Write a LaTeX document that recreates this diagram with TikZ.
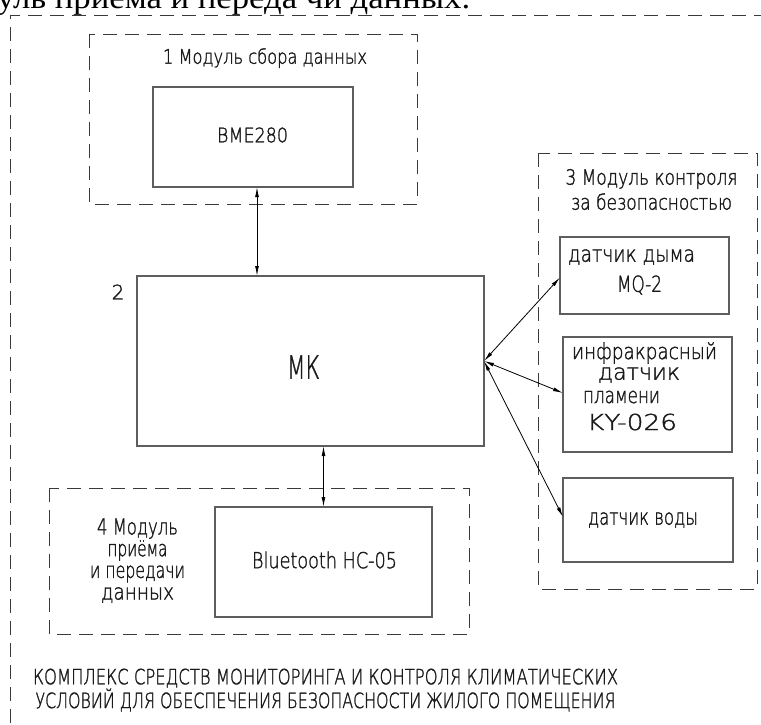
\documentclass[tikz,border=0pt]{standalone}
\usepackage{fontspec}
\setmainfont{DejaVu Sans ExtraLight}[FakeBold=1.5]
\newfontfamily\bodyserif{Liberation Serif}
\usetikzlibrary{arrows.meta}

% scale a line of text horizontally to a given width, keeping its height
\newcommand\wfit[2]{\resizebox{#1}{\height}{#2}}

\definecolor{boxgray}{HTML}{5E5E5E}
\definecolor{dashgray}{HTML}{3A3A3A}
\definecolor{ink}{HTML}{1A1A1A}

\begin{document}
\begin{tikzpicture}[x=1pt,y=-1pt,
  blk/.style={draw=boxgray, line width=1.2pt, inner sep=0pt, outer sep=0pt, fill=white},
  modframe/.style={draw=dashgray, line width=0.8pt, dash pattern=on 14pt off 8pt},
  txt/.style={text=ink, inner sep=0pt, font=\fontsize{20}{24}\selectfont},
  lbl/.style={txt, font=\fontsize{22}{26}\selectfont},
  link/.style={draw=black, line width=0.8pt, {Latex[length=10pt,width=3.8pt]}-{Latex[length=10pt,width=3.8pt]}}
]
\clip (0,0) rectangle (761,724);
\fill[white] (0,0) rectangle (761,724);

% fragment of the surrounding document text
\node[anchor=base west, inner sep=0pt, text=black, font=\bodyserif\fontsize{32}{36}\selectfont]
  (doctext) at (-3,8) {\wfit{473pt}{уль приема и переда чи данных.}};

% outer frame of the whole complex
\draw[modframe] (790,15) -- (10,15) -- (10,760);

% module frames
\draw[modframe] (89,34) rectangle (417,204);
\draw[modframe] (538,153) rectangle (757,589);
\draw[modframe] (49,488) rectangle (469,634);

% blocks
\node[blk, minimum width=200pt, minimum height=100pt] (bme) at (253,137) {};
\node[blk, minimum width=347pt, minimum height=170pt] (mk) at (310.5,361) {};
\node[blk, minimum width=217pt, minimum height=110pt] (bt) at (323.5,562) {};
\node[blk, minimum width=169pt, minimum height=77pt] (smoke) at (644.5,275.5) {};
\node[blk, minimum width=169pt, minimum height=115pt] (flame) at (647.5,394.5) {};
\node[blk, minimum width=170pt, minimum height=84pt] (water) at (648,520) {};

% connections
\draw[link] ([xshift=4pt]bme.south) -- ([xshift=4pt]bme.south |- mk.north);
\draw[link] (mk.south -| bt.north) -- (bt.north);
\draw[link] (mk.east) -- ([yshift=-2pt]smoke.west);
\draw[link] (mk.east) -- ([yshift=1.5pt]flame.west);
\draw[link] (mk.east) -- ([yshift=3pt]water.west);

% labels
\node[txt] (t1) at (265,58) {\wfit{204pt}{1 Модуль сбора данных}};
\node[txt] (tbme) at (252.5,135) {\wfit{71pt}{BME280}};
\node[txt] (t2) at (118,292) {2};
\node[txt, font=\fontsize{32}{36}\selectfont] (tmk) at (303.5,367) {\wfit{33pt}{МК}};

\node[txt, align=center, font=\fontsize{21}{25}\selectfont] (t3) at (651.5,189.5)
  {\wfit{172pt}{3 Модуль контроля}\\\wfit{161pt}{за безопасностью}};

\node[lbl] (s1) at (631.5,257) {\wfit{127pt}{датчик дыма}};
\node[lbl] (s2) at (639.5,285) {\wfit{45pt}{MQ-2}};

\node[lbl] (f1) at (644.5,353) {\wfit{145pt}{инфракрасный}};
\node[lbl] (f2) at (639,375) {\wfit{82pt}{датчик}};
\node[lbl] (f3) at (621.5,397) {\wfit{77pt}{пламени}};
\node[lbl] (f4) at (632,422) {\wfit{90pt}{KY-026}};

\node[lbl] (w1) at (643,520) {\wfit{110pt}{датчик воды}};

\node[txt, align=center, font=\fontsize{22}{21.7}\selectfont] (t4) at (137.5,560.5)
  {\wfit{81pt}{4 Модуль}\\\wfit{60pt}{приёма}\\\wfit{95pt}{и передачи}\\\wfit{73pt}{данных}};

\node[lbl] (tbt) at (324.5,560) {\wfit{145pt}{Bluetooth HC-05}};

\node[txt, align=center, font=\fontsize{21}{20}\selectfont] (title) at (325.5,690)
  {\wfit{585pt}{КОМПЛЕКС СРЕДСТВ МОНИТОРИНГА И КОНТРОЛЯ КЛИМАТИЧЕСКИХ}\\
   \wfit{580pt}{УСЛОВИЙ ДЛЯ ОБЕСПЕЧЕНИЯ БЕЗОПАСНОСТИ ЖИЛОГО ПОМЕЩЕНИЯ}};
\end{tikzpicture}
\end{document}
